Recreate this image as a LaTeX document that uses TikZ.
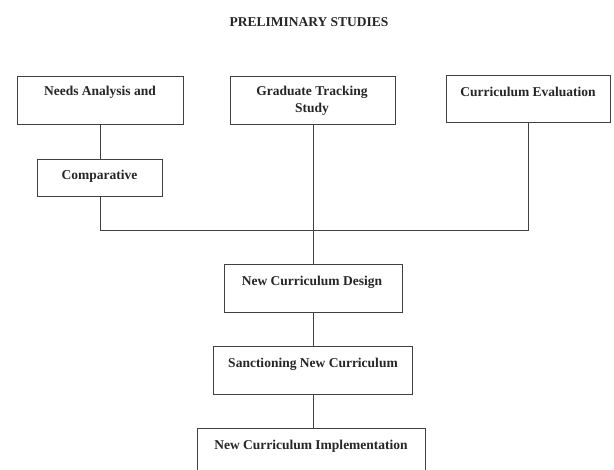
\documentclass[tikz,border=0pt]{standalone}
\usepackage{fontspec}
\setmainfont{Liberation Serif}
\begin{document}
\begin{tikzpicture}[x=1pt,y=-1pt,
  boxnode/.style={draw=black!75,line width=1pt,rectangle,inner sep=0pt},
  lbl/.style={font=\fontsize{13.5}{17}\selectfont\bfseries,text=black!85,inner sep=0pt,align=center},
  conn/.style={draw=black!75,line width=1pt}]
\useasboundingbox (0,0) rectangle (614,470);
\clip (0,0) rectangle (614,470);
\fill[white] (0,0) rectangle (614,470);
% title
\node[lbl] (title) at (309,22) {PRELIMINARY STUDIES};
% boxes
\node[boxnode,minimum width=166pt,minimum height=48pt] (b1) at (100,101) {};
\node[boxnode,minimum width=165pt,minimum height=48pt] (b2) at (313,101) {};
\node[boxnode,minimum width=164pt,minimum height=47pt] (b3) at (528,99.5) {};
\node[boxnode,minimum width=125pt,minimum height=37pt] (cmp) at (100,178.5) {};
\node[boxnode,minimum width=178pt,minimum height=48pt] (ncd) at (313,289) {};
\node[boxnode,minimum width=199pt,minimum height=48pt] (snc) at (313,371) {};
\node[boxnode,minimum width=228pt,minimum height=48pt] (imp) at (311,453) {};
% labels
\node[lbl] (t1) at (100,92) {Needs Analysis and};
\node[lbl] (t2) at (312,100.5) {Graduate Tracking\\Study};
\node[lbl] (t3) at (528,92) {Curriculum Evaluation};
\node[lbl] (t4) at (99.5,176) {Comparative};
\node[lbl] (t5) at (312,282) {New Curriculum Design};
\node[lbl] (t6) at (313,364) {Sanctioning New Curriculum};
\node[lbl] (t7) at (311,446) {New Curriculum Implementation};
% connectors
\coordinate (jr) at (528,231);
\draw[conn] (b1.south) -- (cmp.north);
\draw[conn] (cmp.south) |- (jr) -- (b3.south);
\draw[conn] (b2.south) -- (ncd.north);
\draw[conn] (ncd.south) -- (snc.north);
\draw[conn] (snc.south) -- (snc.south |- imp.north);
\end{tikzpicture}
\end{document}
